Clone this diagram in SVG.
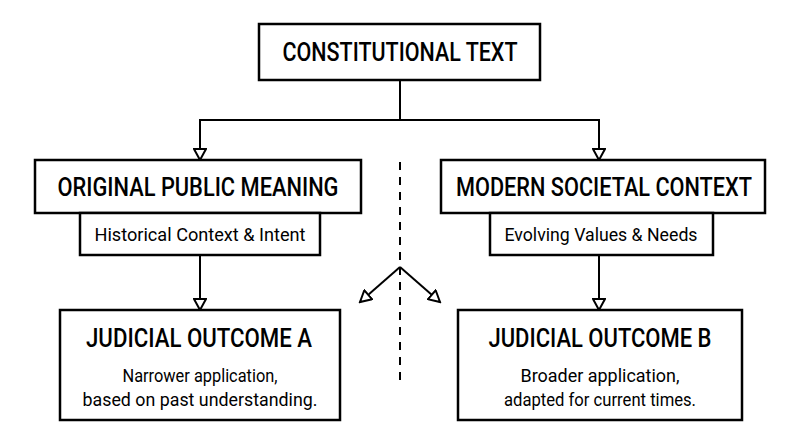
<svg xmlns="http://www.w3.org/2000/svg" width="800" height="447" viewBox="0 0 800 447">
<style>
.b{fill:#fff;stroke:#000;stroke-width:2.5}
.t{font-family:Roboto,"Liberation Sans",sans-serif;text-anchor:middle;fill:#000}
.h{font-size:25px;font-weight:500}
.s{font-size:18px}
.c{fill:none;stroke:#000;stroke-width:2}
</style>
<defs><marker id="a" markerWidth="14" markerHeight="14" refX="12" refY="7" orient="auto" markerUnits="userSpaceOnUse"><path d="M1,1 L12,7 L1,13 Z" fill="#fff" stroke="#000" stroke-width="2"/></marker></defs>
<rect width="800" height="447" fill="#fff"/>
<g id="connectors">
<path class="c" d="M400,80 V120 M200,120 H599"/>
<path class="c" d="M200,119 V160" marker-end="url(#a)"/>
<path class="c" d="M599,119 V160" marker-end="url(#a)"/>
<path class="c" d="M200,255 V310" marker-end="url(#a)"/>
<path class="c" d="M599,255 V310" marker-end="url(#a)"/>
<path class="c" d="M400,162 V385" stroke-dasharray="8,7"/>
<path class="c" d="M400,267 L360,302" marker-end="url(#a)"/>
<path class="c" d="M400,267 L440,302" marker-end="url(#a)"/>
</g>
<g id="top"><rect class="b" x="259" y="24" width="281" height="56"/><text class="t h" x="400" y="61" textLength="235" lengthAdjust="spacingAndGlyphs">CONSTITUTIONAL TEXT</text></g>
<g id="opm"><rect class="b" x="35" y="160" width="326" height="53"/><text class="t h" x="198" y="196" textLength="281" lengthAdjust="spacingAndGlyphs">ORIGINAL PUBLIC MEANING</text></g>
<g id="hist"><rect class="b" x="80" y="213" width="240" height="42"/><text class="t s" x="200" y="241" textLength="211" lengthAdjust="spacingAndGlyphs">Historical Context &amp; Intent</text></g>
<g id="msc"><rect class="b" x="441" y="160" width="324" height="53"/><text class="t h" x="604" y="196" textLength="296" lengthAdjust="spacingAndGlyphs">MODERN SOCIETAL CONTEXT</text></g>
<g id="evo"><rect class="b" x="490" y="213" width="223" height="42"/><text class="t s" x="601" y="241" textLength="193" lengthAdjust="spacingAndGlyphs">Evolving Values &amp; Needs</text></g>
<g id="outa"><rect class="b" x="60" y="310" width="280" height="110"/><text class="t h" x="199" y="347" textLength="226" lengthAdjust="spacingAndGlyphs">JUDICIAL OUTCOME A</text><text class="t s" x="200" y="382" textLength="155" lengthAdjust="spacingAndGlyphs">Narrower application,</text><text class="t s" x="200" y="406" textLength="235" lengthAdjust="spacingAndGlyphs">based on past understanding.</text></g>
<g id="outb"><rect class="b" x="458" y="310" width="284" height="110"/><text class="t h" x="600" y="347" textLength="223" lengthAdjust="spacingAndGlyphs">JUDICIAL OUTCOME B</text><text class="t s" x="600" y="382" textLength="159" lengthAdjust="spacingAndGlyphs">Broader application,</text><text class="t s" x="600" y="406" textLength="192" lengthAdjust="spacingAndGlyphs">adapted for current times.</text></g>
</svg>
